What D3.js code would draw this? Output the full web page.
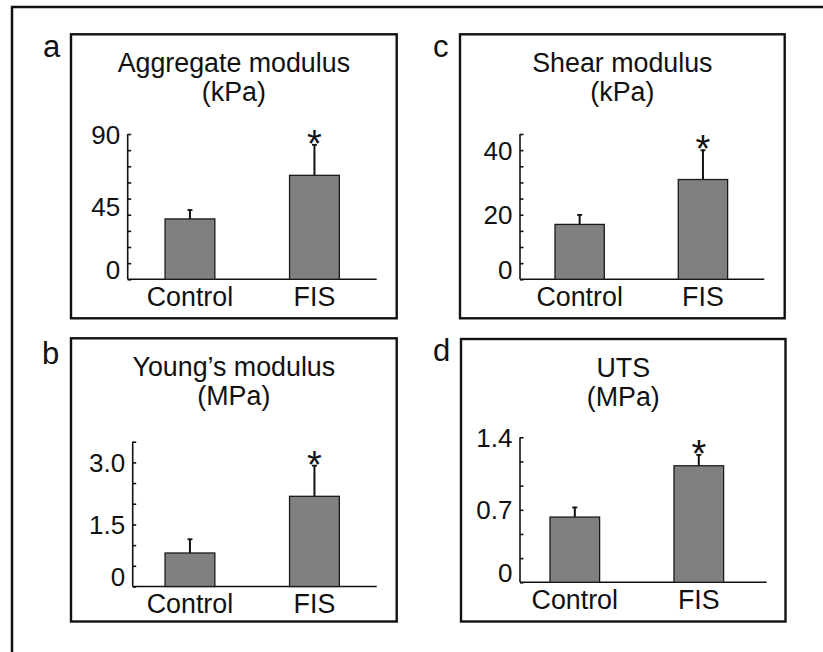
<!DOCTYPE html>
<html>
<head>
<meta charset="utf-8">
<script src="https://cdn.jsdelivr.net/npm/d3@7/dist/d3.min.js"></script>
<style>
  html, body { margin: 0; padding: 0; background: #fff; }
  svg { display: block; }
  text { font-family: "Liberation Sans", Arial, Helvetica, sans-serif; fill: #111; }
</style>
</head>
<body>
<svg id="chart" width="823" height="652"></svg>
<script>
// ---------------- data ----------------
const categories = ["Control", "FIS"];
const panelLetters = ["a", "b", "c", "d"];
const titleLines = [
  ["Aggregate modulus", "(kPa)"],
  ["Young\u2019s modulus", "(MPa)"],
  ["Shear modulus", "(kPa)"],
  ["UTS", "(MPa)"]
];
const aggregateMean = [37.4, 64.4];
const aggregateErr  = [6.0, 19.4];
const youngMean = [0.81, 2.18];
const youngErr  = [0.35, 0.76];
const shearMean = [17.0, 30.9];
const shearErr  = [3.2, 9.3];
const utsMean = [0.63, 1.125];
const utsErr  = [0.10, 0.113];
const significant = [false, true];

const aggregateTickLabels = [0, 45, 90];
const youngTickLabels = [0, 1.5, 3.0];
const shearTickLabels = [0, 20, 40];
const utsTickLabels = [0, 0.7, 1.4];

const aggregateMinorTicks = [0, 10, 20, 30, 40, 50, 60, 70, 80, 90];
const youngMinorTicks = [0, 0.5, 1.0, 1.5, 2.0, 2.5, 3.0, 3.5];
const shearMinorTicks = [0, 5, 10, 15, 20, 25, 30, 35, 40, 45];
const utsMinorTicks = [0, 0.2333, 0.4667, 0.7, 0.9333, 1.1667, 1.4];

const aggregateMax = 90, youngMax = 3.5, shearMax = 45, utsMax = 1.4;

// ---------------- layout ----------------
const panels = [
  { letter: panelLetters[0], title: titleLines[0], mean: aggregateMean, err: aggregateErr,
    labels: aggregateTickLabels, minor: aggregateMinorTicks, max: aggregateMax, fmt: d3.format("d"),
    box: [71, 34.3, 325.7, 284], axisX: 127.7, yTop: 134, yBase: 279.3, axisEnd: 376.7,
    barRange: [127.7, 376.7], letterPos: [43, 57] },
  { letter: panelLetters[1], title: titleLines[1], mean: youngMean, err: youngErr,
    labels: youngTickLabels, minor: youngMinorTicks, max: youngMax, fmt: d3.format(".1f"),
    box: [71, 338.3, 325.7, 283.2], axisX: 132.7, yTop: 441.7, yBase: 586.5, axisEnd: 376.7,
    barRange: [127.7, 376.7], letterPos: [42, 364] },
  { letter: panelLetters[2], title: titleLines[2], mean: shearMean, err: shearErr,
    labels: shearTickLabels, minor: shearMinorTicks, max: shearMax, fmt: d3.format("d"),
    box: [460, 34.3, 324.7, 284], axisX: 520, yTop: 134, yBase: 279.3, axisEnd: 764.3,
    barRange: [518, 764.6], letterPos: [433, 57] },
  { letter: panelLetters[3], title: titleLines[3], mean: utsMean, err: utsErr,
    labels: utsTickLabels, minor: utsMinorTicks, max: utsMax, fmt: d3.format(".1f"),
    box: [461, 339, 324.5, 282.5], axisX: 520, yTop: 437.3, yBase: 582.3, axisEnd: 766.7,
    barRange: [512.8, 760.8], letterPos: [433, 361] }
];

const svg = d3.select("#chart");

// outer frame (extends beyond the visible area on the right and bottom)
svg.append("rect")
  .attr("x", 12).attr("y", 7).attr("width", 1000).attr("height", 1000)
  .attr("fill", "none").attr("stroke", "#111").attr("stroke-width", 2.5);

panels.forEach(p => {
  const g = svg.append("g");
  const [bx, by, bw, bh] = p.box;

  g.append("rect")
    .attr("x", bx).attr("y", by).attr("width", bw).attr("height", bh)
    .attr("fill", "none").attr("stroke", "#111").attr("stroke-width", 2.4);

  g.append("text")
    .attr("x", p.letterPos[0]).attr("y", p.letterPos[1])
    .attr("font-size", 31)
    .text(p.letter);

  const cx = bx + bw / 2;
  p.title.forEach((line, i) => {
    g.append("text")
      .attr("x", cx).attr("y", by + 38 + i * 29)
      .attr("text-anchor", "middle")
      .attr("font-size", 26.8)
      .text(line);
  });

  const y = d3.scaleLinear().domain([0, p.max]).range([p.yBase, p.yTop]);
  const x = d3.scaleBand().domain(categories).range(p.barRange)
    .paddingInner(0.6).paddingOuter(0.3);

  // y axis: minor ticks pointing inward, no labels
  const yAxisMinor = d3.axisRight(y).tickValues(p.minor).tickSize(3.5).tickFormat("");
  const ga = g.append("g").attr("transform", `translate(${p.axisX},0)`).call(yAxisMinor);
  ga.select(".domain").remove();
  ga.selectAll(".tick line").attr("stroke", "#111").attr("stroke-width", 1.6);

  g.append("line")
    .attr("x1", p.axisX).attr("x2", p.axisX)
    .attr("y1", y(p.max)).attr("y2", y(0))
    .attr("stroke", "#111").attr("stroke-width", 1.6);

  // y tick labels
  const yAxisLabels = d3.axisLeft(y).tickValues(p.labels).tickSize(0).tickPadding(7.5)
    .tickFormat(v => v === 0 ? "0" : p.fmt(v));
  const gl = g.append("g").attr("transform", `translate(${p.axisX},0)`).call(yAxisLabels);
  gl.select(".domain").remove();
  gl.selectAll(".tick text")
    .attr("font-size", 26)
    .attr("font-family", "'Liberation Sans', Arial, sans-serif")
    .attr("fill", "#111")
    .attr("dy", v => v === 0 ? "-0.02em" : "0.35em");

  // x axis line
  g.append("line")
    .attr("x1", p.axisX).attr("x2", p.axisEnd)
    .attr("y1", y(0)).attr("y2", y(0))
    .attr("stroke", "#111").attr("stroke-width", 1.6);

  // bars
  g.selectAll("rect.bar").data(categories).enter().append("rect")
    .attr("class", "bar")
    .attr("x", d => x(d))
    .attr("width", x.bandwidth())
    .attr("y", (d, i) => y(p.mean[i]))
    .attr("height", (d, i) => y(0) - y(p.mean[i]))
    .attr("fill", "#808080")
    .attr("stroke", "#1a1a1a").attr("stroke-width", 1.3);

  // error bars (upper only)
  categories.forEach((c, i) => {
    const mx = x(c) + x.bandwidth() / 2;
    const top = y(p.mean[i] + p.err[i]);
    g.append("line")
      .attr("x1", mx).attr("x2", mx)
      .attr("y1", y(p.mean[i])).attr("y2", top)
      .attr("stroke", "#111").attr("stroke-width", 2);
    g.append("line")
      .attr("x1", mx - 2.5).attr("x2", mx + 2.5)
      .attr("y1", top + 0.8).attr("y2", top + 0.8)
      .attr("stroke", "#111").attr("stroke-width", 1.8);
    if (significant[i]) {
      g.append("text")
        .attr("x", mx).attr("y", top + 13)
        .attr("text-anchor", "middle")
        .attr("font-size", 38)
        .text("*");
    }
  });

  // category labels
  categories.forEach(c => {
    g.append("text")
      .attr("x", x(c) + x.bandwidth() / 2)
      .attr("y", y(0) + 26.5)
      .attr("text-anchor", "middle")
      .attr("font-size", 26.8)
      .text(c);
  });
});
</script>
</body>
</html>
